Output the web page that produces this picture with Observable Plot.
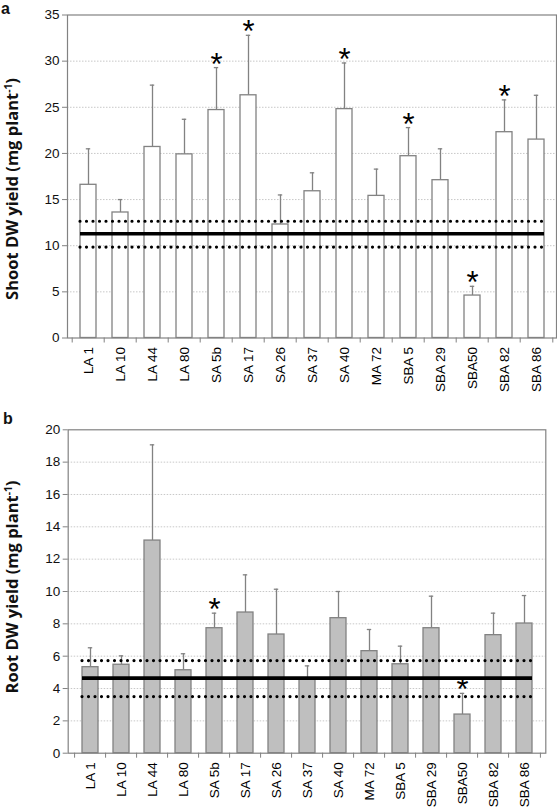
<!DOCTYPE html>
<html><head><meta charset="utf-8">
<script src="https://cdn.jsdelivr.net/npm/d3@7"></script>
<script src="https://cdn.jsdelivr.net/npm/@observablehq/plot@0.6"></script>
<style>
body{margin:0;background:#fff;}
#wrap{position:relative;width:557px;height:807px;overflow:hidden;font-family:"Liberation Sans",Arial,sans-serif;background:#fff;}
.panel{position:absolute;left:0;}
.ylab{position:absolute;font-family:"Open Sans","Liberation Sans",sans-serif;font-weight:bold;font-size:16.5px;white-space:nowrap;line-height:16px;transform:translate(-50%,-50%) rotate(-90deg);color:#111;}
.ylab sup{font-size:0.62em;line-height:0;vertical-align:0.55em;}
.letter{position:absolute;font-weight:bold;font-size:16px;line-height:10px;color:#111;}
</style></head><body><div id="wrap"></div>
<script>
// ---- data ----
const categories = ["LA 1","LA 10","LA 44","LA 80","SA 5b","SA 17","SA 26","SA 37","SA 40","MA 72","SBA 5","SBA 29","SBA50","SBA 82","SBA 86"];
const shootMean = [16.6, 13.6, 20.7, 19.9, 24.7, 26.3, 12.3, 15.9, 24.8, 15.4, 19.7, 17.1, 4.6, 22.3, 21.5];
const shootSD   = [3.9, 1.4, 6.7, 3.8, 4.6, 6.5, 3.2, 2.0, 5.0, 2.9, 3.1, 3.4, 1.0, 3.5, 4.8];
const shootSig  = [false,false,false,false,true,true,false,false,true,false,true,false,true,true,false];
const shootControl = {lower: 9.85, mean: 11.3, upper: 12.65};
const shootTicks = [0,5,10,15,20,25,30,35];

const rootMean = [5.32, 5.47, 13.15, 5.13, 7.73, 8.70, 7.34, 4.55, 8.35, 6.31, 5.50, 7.73, 2.39, 7.30, 8.02];
const rootSD   = [1.20, 0.55, 5.92, 1.02, 0.93, 2.33, 2.80, 0.85, 1.65, 1.34, 1.12, 1.98, 1.31, 1.36, 1.73];
const rootSig  = [false,false,false,false,true,false,false,false,false,false,false,false,true,false,false];
const rootControl = {lower: 3.5, mean: 4.64, upper: 5.73};
const rootTicks = [0,2,4,6,8,10,12,14,16,18,20];

function makePanel({mean, sd, sig, control, ticks, yMax, fill, width, height, marginLeft, marginRight, marginTop, marginBottom}) {
  const rows = categories.map((c, i) => ({cat: c, mean: mean[i], upper: mean[i] + sd[i], sig: sig[i]}));
  const ctrl = [{x1: categories[0], x2: categories[categories.length - 1], ...control}];
  const step = (width - marginLeft - marginRight) / categories.length;
  const grey = "#828282";
  return Plot.plot({
    width, height, marginLeft, marginRight, marginTop, marginBottom,
    style: {fontFamily: "'Liberation Sans', Arial, sans-serif", fontSize: "13px", background: "#fff"},
    x: {type: "band", domain: categories, paddingInner: 0.5, paddingOuter: 0.25},
    y: {domain: [0, yMax]},
    marks: [
      Plot.gridY(ticks.filter(t => t > 0 && t < yMax), {stroke: "#c8c8c8", strokeOpacity: 1, strokeDasharray: "1.5,1.5"}),
      Plot.frame({stroke: grey, strokeWidth: 1.2}),
      Plot.axisY(ticks, {tickSize: 5, tickPadding: 3, stroke: grey, fill: "#111", fontSize: 13.5, label: null}),
      Plot.axisX({tickSize: 5, tickFormat: () => "", dx: -step / 2, stroke: grey, label: null}),
      Plot.axisX([categories[categories.length - 1]], {tickSize: 5, tickFormat: () => "", dx: step / 2, stroke: grey, label: null}),
      Plot.axisX({tickSize: 0, tickPadding: 9, tickRotate: -90, fill: "#000", fontSize: 13.5, label: null}),
      Plot.ruleX(rows, {x: "cat", y1: "mean", y2: "upper", stroke: grey, strokeWidth: 1.3}),
      Plot.tickY(rows, {x: "cat", y: "upper", stroke: grey, strokeWidth: 1.3, insetLeft: 5.8, insetRight: 5.8}),
      Plot.barY(rows, {x: "cat", y: "mean", fill, stroke: grey, strokeWidth: 1.3}),
      Plot.ruleY(ctrl, {x1: "x1", x2: "x2", y: "lower", stroke: "#000", strokeWidth: 3.2, strokeDasharray: "0,6.5", strokeLinecap: "round"}),
      Plot.ruleY(ctrl, {x1: "x1", x2: "x2", y: "upper", stroke: "#000", strokeWidth: 3.2, strokeDasharray: "0,6.5", strokeLinecap: "round"}),
      Plot.ruleY(ctrl, {x1: "x1", x2: "x2", y: "mean", stroke: "#000", strokeWidth: 3.6}),
      Plot.text(rows.filter(d => d.sig), {x: "cat", y: "upper", text: () => "*", fontSize: 31, fontWeight: "normal", fill: "#000", dy: -3})
    ]
  });
}

const wrap = document.getElementById("wrap");

const a = makePanel({mean: shootMean, sd: shootSD, sig: shootSig, control: shootControl, ticks: shootTicks, yMax: 35, fill: "#fff",
  width: 557, height: 400, marginLeft: 67, marginRight: 1, marginTop: 14.5, marginBottom: 62.5});
a.classList.add("panel"); a.style.top = "0px";
wrap.appendChild(a);

const b = makePanel({mean: rootMean, sd: rootSD, sig: rootSig, control: rootControl, ticks: rootTicks, yMax: 20, fill: "#bfbfbf",
  width: 557, height: 407, marginLeft: 67.7, marginRight: 11.7, marginTop: 29.3, marginBottom: 54.3});
b.classList.add("panel"); b.style.top = "400px";
wrap.appendChild(b);

function addDiv(cls, html, left, top) {
  const d = document.createElement("div");
  d.className = cls; d.innerHTML = html;
  d.style.left = left + "px"; d.style.top = top + "px";
  wrap.appendChild(d);
}
addDiv("ylab", "Shoot DW yield (mg plant<sup>-1</sup>)", 11.5, 189);
addDiv("ylab", "Root DW yield (mg plant<sup>-1</sup>)", 11.5, 587);
addDiv("letter", "a", 1, 4);
addDiv("letter", "b", 3, 413.5);
</script>
</body></html>
